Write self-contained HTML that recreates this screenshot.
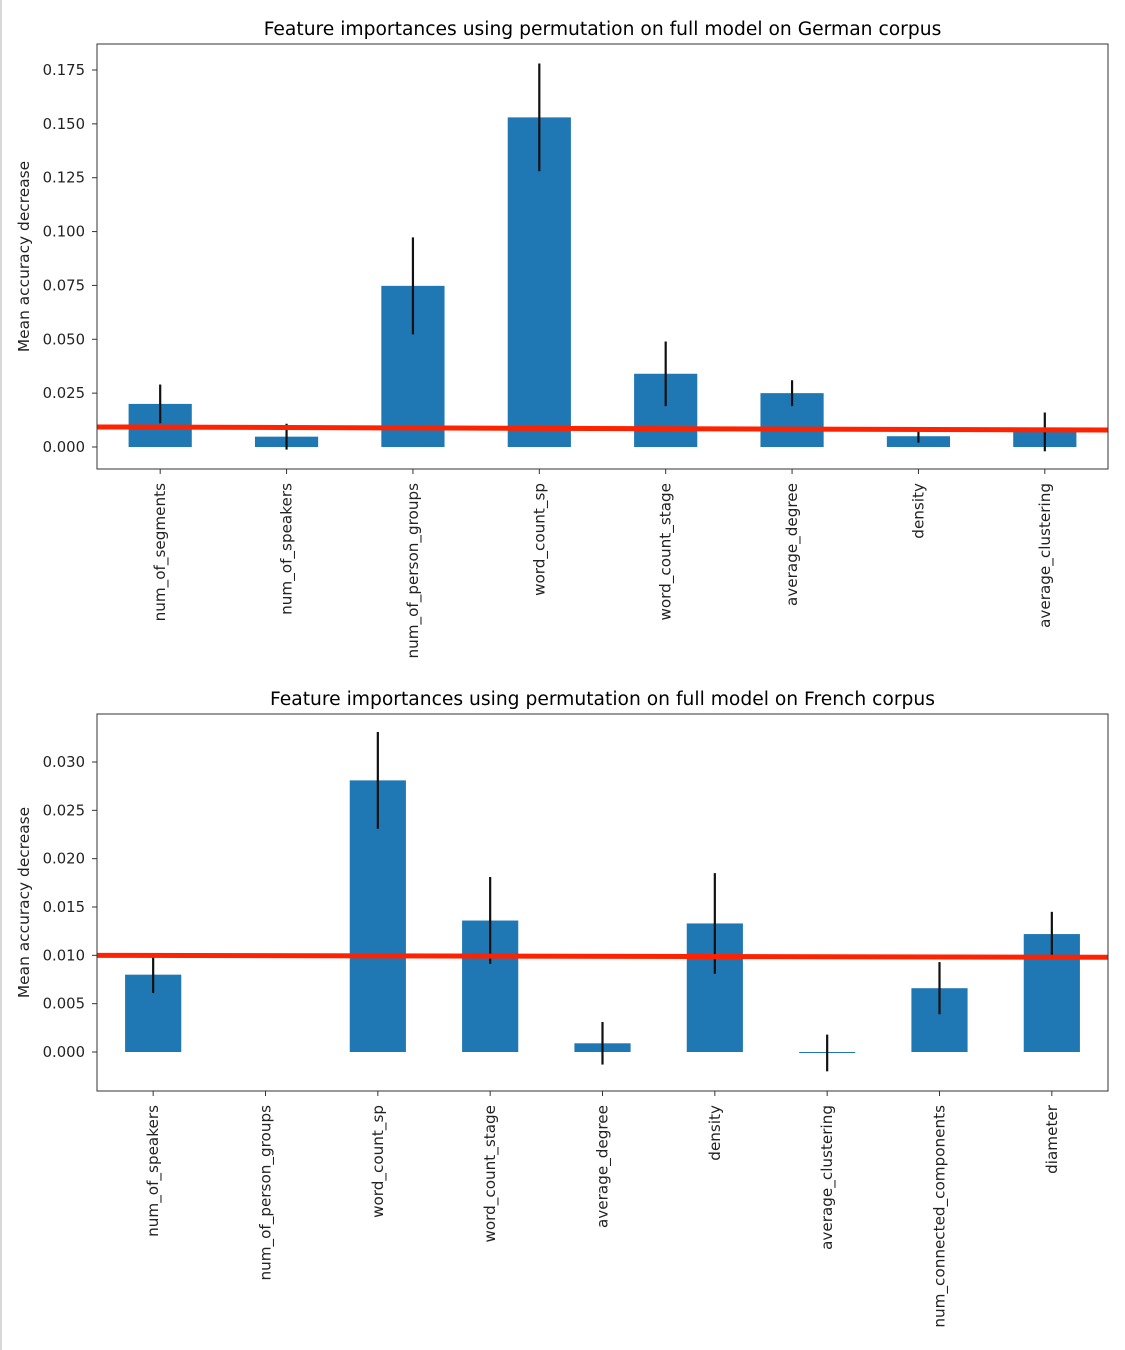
<!DOCTYPE html>
<html><head><meta charset="utf-8"><style>
body{margin:0;background:#fff;}
svg{display:block;font-family:"DejaVu Sans","Liberation Sans",sans-serif;}
</style></head><body>
<svg id="chart" width="1125" height="1350" xmlns="http://www.w3.org/2000/svg">
<rect x="0" y="0" width="2" height="1350" fill="#d8d8d8"/>
</svg>
<script>
const deCats=["num_of_segments","num_of_speakers","num_of_person_groups","word_count_sp","word_count_stage","average_degree","density","average_clustering"];
const deVals=[0.020,0.0048,0.0748,0.153,0.0340,0.0250,0.0050,0.0070];
const deErrs=[0.0090,0.0060,0.0225,0.0250,0.0150,0.0060,0.0030,0.0090];
const deTicks=[0,0.025,0.05,0.075,0.1,0.125,0.15,0.175];
const deTickLabels=["0.000","0.025","0.050","0.075","0.100","0.125","0.150","0.175"];
const deLine=[0.0093,0.0079];
const frCats=["num_of_speakers","num_of_person_groups","word_count_sp","word_count_stage","average_degree","density","average_clustering","num_connected_components","diameter"];
const frVals=[0.0080,0,0.0281,0.0136,0.0009,0.0133,-0.0001,0.0066,0.0122];
const frErrs=[0.0019,0,0.0050,0.0045,0.0022,0.0052,0.0019,0.0027,0.0023];
const frTicks=[0,0.005,0.01,0.015,0.02,0.025,0.03];
const frTickLabels=["0.000","0.005","0.010","0.015","0.020","0.025","0.030"];
const frLine=[0.0100,0.0098];

const NS="http://www.w3.org/2000/svg";
const svg=document.getElementById('chart');
function mk(tag,attrs,parent){const e=document.createElementNS(NS,tag);for(const k in attrs)e.setAttribute(k,attrs[k]);(parent||svg).appendChild(e);return e;}

function panel(p,cats,vals,errs,ticks,tickLabels,line,title,x0,x1,y0,y1,v0,yv0,v1,yv1){
  const g=mk('g',{});
  
  
  const ys=v=>yv0+(v-v0)*(yv1-yv0)/(v1-v0);
  const step=(x1-x0)/cats.length;
  const xs=i=>x0+step*(i+0.5);
  const t=mk('text',{x:(x0+x1)/2,y:y0-9,'text-anchor':'middle','font-size':'18.7',fill:'#000'},g);
  t.textContent=title;
  
  
  cats.forEach((c,i)=>{
    const v=vals[i];
    if(v!==0){
      const top=ys(Math.max(v,0)),bot=ys(Math.min(v,0));
      const b=mk('rect',{x:xs(i)-step/4,y:top,width:step/2,height:Math.max(bot-top,1),fill:'#1f77b4'},g);
      
      
    }
    if(errs[i]>0){
      const e=mk('line',{x1:xs(i),x2:xs(i),y1:ys(v+errs[i]),y2:ys(v-errs[i]),stroke:'#111','stroke-width':2.2},g);
      
      
    }
    mk('line',{x1:xs(i),x2:xs(i),y1:y1,y2:y1+5,stroke:'#333','stroke-width':1},g);
    const l=mk('text',{transform:`translate(${xs(i)+5},${y1+14}) rotate(-90)`,'text-anchor':'end','font-size':'15.2',fill:'#222'},g);
    l.textContent=c;
    
    
  });
  const r=mk('line',{x1:x0,x2:x1,y1:ys(line[0]),y2:ys(line[1]),stroke:'#ff2200','stroke-width':5},g);
  
  
  ticks.forEach((v,i)=>{
    mk('line',{x1:x0-5,x2:x0,y1:ys(v),y2:ys(v),stroke:'#333','stroke-width':1},g);
    const l=mk('text',{x:x0-12,y:ys(v)+5,'text-anchor':'end','font-size':'14.8',fill:'#222'},g);
    l.textContent=tickLabels[i];
    
    
  });
  const ax=mk('rect',{x:x0,y:y0,width:x1-x0,height:y1-y0,fill:'none',stroke:'#333','stroke-width':1},g);
  
  
  const yl=mk('text',{transform:`translate(29,${(y0+y1)/2}) rotate(-90)`,'text-anchor':'middle','font-size':'15.4',fill:'#222'},g);
  yl.textContent='Mean accuracy decrease';
  
  
}
panel('german',deCats,deVals,deErrs,deTicks,deTickLabels,deLine,'Feature importances using permutation on full model on German corpus',97,1108,44,469,0,447,0.175,70);
panel('french',frCats,frVals,frErrs,frTicks,frTickLabels,frLine,'Feature importances using permutation on full model on French corpus',97,1108,714,1091,0,1052,0.03,762);
</script>
</body></html>
